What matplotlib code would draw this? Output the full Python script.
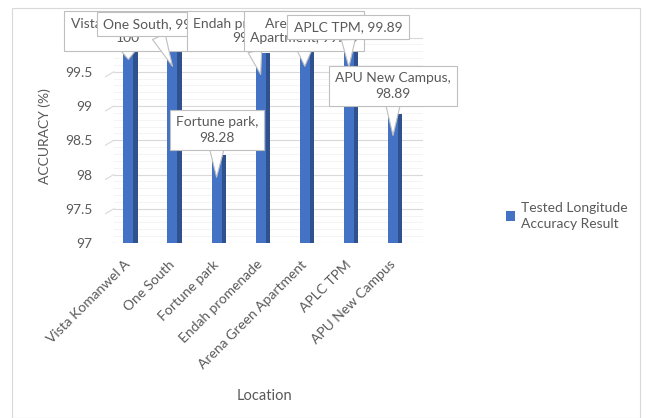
import matplotlib.pyplot as plt
import matplotlib.transforms as mtransforms
from matplotlib.patches import Rectangle

locations = ["Vista Komanwel A", "One South", "Fortune park", "Endah promenade",
             "Arena Green Apartment", "APLC TPM", "APU New Campus"]
accuracy = [100, 99.9, 98.28, 99.78, 99.9, 99.89, 98.89]
callout_text = ["Vista Komanwel A,\n100", "One South, 99.9", "Fortune park,\n98.28",
                "Endah promenade,\n99.78", "Arena Green\nApartment, 99.90",
                "APLC TPM, 99.89", "APU New Campus,\n98.89"]
yticks = [97, 97.5, 98, 98.5, 99, 99.5, 100]

# callout box centres in figure pixels (y from the top of the image)
callout_pos = [(128, 31), (153, 24), (217, 130), (250, 31), (304, 31), (348, 27), (393, 86)]
callout_order = [0, 1, 3, 4, 5, 6, 2]

plt.rcParams['font.family'] = ['Lato', 'DejaVu Sans']
W, H = 649, 418
fig = plt.figure(figsize=(W / 100, H / 100), dpi=100)
ax = fig.add_axes([105 / W, (H - 243) / H, (423 - 105) / W, (243 - 30) / H])

front = '#4472C4'
side = '#2F528F'
grey = '#595959'

ax.set_xlim(-0.57, 6.64)
ax.set_ylim(97, 100.11)

# gridlines with the little slanted start of the 3d floor
blend = mtransforms.blended_transform_factory(ax.transAxes, ax.transData)
for k in range(31):
    y = 97 + k * 0.1
    ax.plot([0.028, 1], [y, y], color='#f2f2f2', lw=0.6, transform=blend, zorder=0)
for y in yticks:
    ax.plot([0.028, 1], [y, y], color='#d9d9d9', lw=0.8, transform=blend, zorder=0.5)
    ax.plot([0.0, 0.028], [y - 0.075, y], color='#d9d9d9', lw=0.8, transform=blend, zorder=0.5)

xs = list(range(len(locations)))
heights = [a - 97 for a in accuracy]
ax.bar([x - 0.04 for x in xs], heights, bottom=97, width=0.23, lw=0,
       color=front, zorder=2, label="Tested Longitude\nAccuracy Result")
ax.bar([x + 0.12 for x in xs], heights, bottom=97, width=0.095, lw=0,
       color=side, zorder=2)

ax.set_yticks(yticks)
ax.set_yticklabels([f"{t:g}" for t in yticks])
ax.set_xticks(xs)
ax.set_xticklabels(locations, rotation=45, ha='right', va='top', rotation_mode='anchor')
ax.tick_params(length=0, colors=grey, labelsize=10)
ax.tick_params(axis='y', pad=9)
ax.tick_params(axis='x', pad=11)
shift = mtransforms.ScaledTranslation(-6 / 100, 0, fig.dpi_scale_trans)
for lbl in ax.get_xticklabels():
    lbl.set_transform(lbl.get_transform() + shift)
for s in ax.spines.values():
    s.set_visible(False)

ax.set_ylabel("ACCURACY (%)", color=grey, fontsize=10, labelpad=10)
ax.set_xlabel("Location", color=grey, fontsize=10.5, labelpad=13)

for z, i in enumerate(callout_order):
    px, py = callout_pos[i]
    ax.annotate(callout_text[i], xy=(xs[i] - 0.04, accuracy[i] - 0.32), xycoords='data',
                xytext=(px, H - py), textcoords='figure pixels',
                ha='center', va='center', fontsize=10, color=grey, linespacing=1.3,
                bbox=dict(boxstyle='square,pad=0.45', fc='white', ec='#bfbfbf', lw=0.8),
                arrowprops=dict(arrowstyle='wedge,tail_width=1.0', fc='white', ec='#bfbfbf',
                                lw=0.8, shrinkA=0, shrinkB=0),
                zorder=5 + z, annotation_clip=False)

leg = fig.legend(loc='center left', bbox_to_anchor=(493 / W, (H - 216) / H),
                 frameon=False, fontsize=10, handlelength=0.7, handleheight=0.7,
                 handletextpad=0.4, labelcolor=grey)
for t in leg.get_texts():
    t.set_linespacing(1.5)

fig.patches.append(Rectangle((12 / W, 0), (640 - 12) / W, (H - 8) / H, transform=fig.transFigure,
                             fill=False, ec='#d9d9d9', lw=0.8))

fig.savefig('out.png', dpi=100)
